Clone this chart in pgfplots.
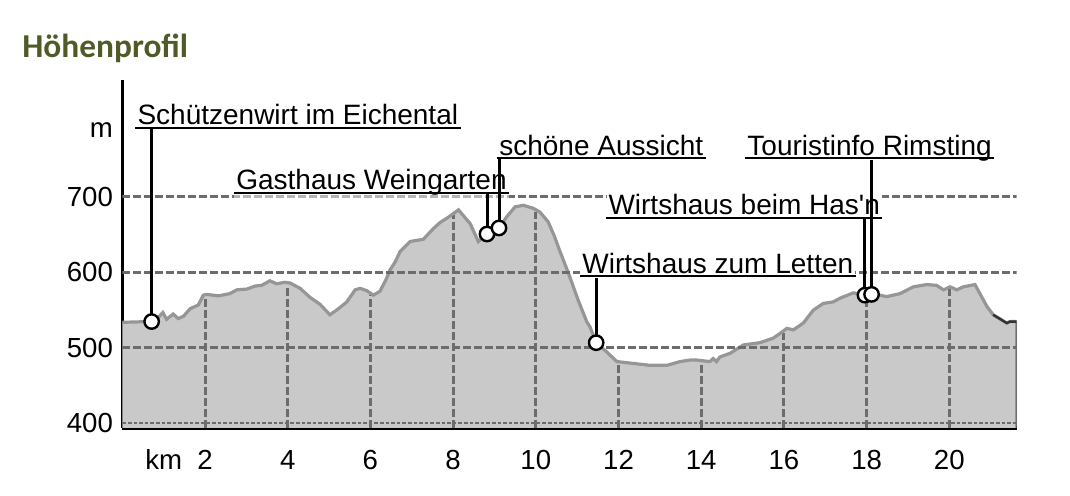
\documentclass[border=0pt]{standalone}
\usepackage{pgfplots}
\pgfplotsset{compat=1.18}
\usepackage{pgfplotstable}
\usepackage{fontspec}
\setmainfont{Liberation Sans}
\newfontfamily\straightfont{Liberation Sans}
\newfontfamily\titlefont{Carlito}
\definecolor{titlegreen}{RGB}{79,91,39}
\definecolor{profilefill}{RGB}{201,201,201}
\definecolor{profileline}{RGB}{150,150,150}
\definecolor{gridgray}{RGB}{108,108,108}
\tikzset{
  gridh/.style={gridgray, line width=1.5pt, dash pattern=on 3.8pt off 1.7pt},
  lab/.style={anchor=base west, inner xsep=1pt, inner ysep=2pt, fill=white,
    font=\fontsize{14}{17}\selectfont},
  uline/.style={black, line width=0.9pt},
  lead/.style={black, line width=1.5pt},
}

\pgfplotstableread{
km elev
0 534
0.67 535
0.83 538
0.98 547
1.07 538
1.23 545
1.35 539
1.48 542
1.64 552
1.84 557
1.96 570
2.04 571
2.32 569
2.60 572
2.77 577
3.01 578
3.21 582
3.37 583
3.57 589
3.73 585
3.93 587
4.06 586
4.30 579
4.54 567
4.78 558
5.02 544
5.18 550
5.43 561
5.63 577
5.75 579
5.91 576
6.07 570
6.23 575
6.39 592
6.47 603
6.60 614
6.72 628
6.96 641
7.28 644
7.52 658
7.68 666
7.88 673
8.13 683
8.33 670
8.41 665
8.61 641
8.82 651
9.11 659
9.30 674
9.50 687
9.70 689
9.94 685
10.10 680
10.30 667
10.45 648
10.57 630
10.79 599
11.02 564
11.23 535
11.31 528
11.46 507
11.71 495
11.96 482
12.28 480
12.76 477
13.17 477
13.49 482
13.73 484
13.89 484
14.21 482
14.29 486
14.37 482
14.45 488
14.70 493
15.02 504
15.42 507
15.74 513
15.90 519
16.07 526
16.23 524
16.47 533
16.71 550
16.95 559
17.19 561
17.36 566
17.68 573
17.96 570
18.16 572
18.48 568
18.81 572
19.13 581
19.45 584
19.69 583
19.86 577
20.02 581
20.18 577
20.34 581
20.62 584
20.74 572
20.91 555
21.06 544
21.27 537
21.39 533
21.47 535
21.63 535
}\profile

\pgfplotstableread{
km elev
21.06 544
21.27 537
21.39 533
21.47 535
21.63 535
21.63 394
}\profileend

\pgfplotstableread{
km elev
0.71 535
8.82 651
9.11 659
11.46 507
17.96 570
18.12 571
}\pois

\begin{document}
\begin{tikzpicture}
\begin{axis}[
  name=ax,
  scale only axis,
  width=447.2pt, height=174pt,
  xmin=0, xmax=21.63, ymin=394, ymax=855,
  axis x line=bottom, axis y line=left,
  axis line style={-},
  x axis line style={line width=2pt, black},
  y axis line style={line width=1.6pt, black},
  xtick={1,2,4,6,8,10,12,14,16,18,20},
  xticklabels={km,2,4,6,8,10,12,14,16,18,20},
  ytick={400,500,600,700,789},
  yticklabels={400,500,600,700,m},
  major tick length=0pt,
  /pgf/number format/assume math mode=true,
  tick label style={font=\fontsize{13.8}{16}\selectfont},
  xticklabel style={anchor=base, inner sep=0pt, yshift=-21pt},
  yticklabel style={anchor=east, inner sep=0pt, xshift=-4.5pt},
]
% profile fill
\addplot[fill=profilefill, draw=none] table[x=km, y=elev] {\profile} \closedcycle;
% vertical grid lines under profile
\addplot[ycomb, gridgray, line width=1.5pt, dash pattern=on 3.8pt off 1.7pt]
  coordinates {(2,568) (4,583) (6,570) (8,676) (10,680) (12,477) (14,481) (16,520) (18,569) (20,578)};
% profile line
\addplot[profileline, line width=1.6pt] table[x=km, y=elev] {\profile};
\addplot[black!80, line width=1.2pt] table[x=km, y=elev] {\profileend};
% horizontal grid lines
\addplot[gridgray, line width=1.1pt, dash pattern=on 1.8pt off 1pt] coordinates {(0,400.6) (21.63,400.6)};
\addplot[gridh] coordinates {(0,500) (21.63,500)};
\addplot[gridh] coordinates {(0,600) (21.63,600)};
\addplot[gridh] coordinates {(0,700) (21.63,700)};
% labels
\node[lab] (n1) at (axis cs:0.31,795.4) {Schützenwirt im Eichental};
\node[lab, fill opacity=0.5, text opacity=1] (n2) at (axis cs:2.70,709.3) {Gasthaus Weingarten};
\node[lab] (n3) at (axis cs:9.06,755.6) {schöne Aussicht};
\node[lab] (n4) at (axis cs:11.07,599.3) {Wirtshaus zum Letten};
\node[lab] (n5) at (axis cs:11.70,676.2) {Wirtshaus beim Has{\straightfont '}n};
\node[lab] (n6) at (axis cs:15.06,755.6) {Touristinfo Rimsting};
\draw[uline] ([yshift=-1.5pt]n1.base west) -- ([yshift=-1.5pt]n1.base east);
\draw[uline] ([yshift=-1.5pt]n2.base west) -- ([yshift=-1.5pt]n2.base east);
\draw[uline] ([yshift=-1.5pt]n3.base west) -- ([yshift=-1.5pt]n3.base east);
\draw[uline] ([yshift=-1.5pt]n4.base west) -- ([yshift=-1.5pt]n4.base east);
\draw[uline] ([yshift=-1.5pt]n5.base west) -- ([yshift=-1.5pt]n5.base east);
\draw[uline] ([yshift=-1.5pt]n6.base west) -- ([yshift=-1.5pt]n6.base east);
% leader lines
\addplot[lead] coordinates {(0.71,535) (0.71,791.4)};
\addplot[lead] coordinates {(8.82,651) (8.82,705.3)};
\addplot[lead] coordinates {(9.11,659) (9.11,751.7)};
\addplot[lead] coordinates {(11.46,507) (11.46,592.7)};
\addplot[lead] coordinates {(17.96,570) (17.96,670.9)};
\addplot[lead] coordinates {(18.12,571) (18.12,749.0)};
% POI circles
\addplot[only marks, mark=*, mark size=3.6pt,
  mark options={fill=white, draw=black, line width=1.2pt}] table[x=km, y=elev] {\pois};
\coordinate (sw) at (rel axis cs:0,0);
\end{axis}
\node[anchor=base west, inner sep=0pt, font=\titlefont\bfseries\fontsize{16.7}{20}\selectfont, text=titlegreen]
  at ([shift={(-50.15pt,185pt)}]sw) {Höhenprofil};
\pgfresetboundingbox
\path ([shift={(-61.15pt,-34pt)}]sw) rectangle ++(535pt,248pt);
\end{tikzpicture}
\end{document}
